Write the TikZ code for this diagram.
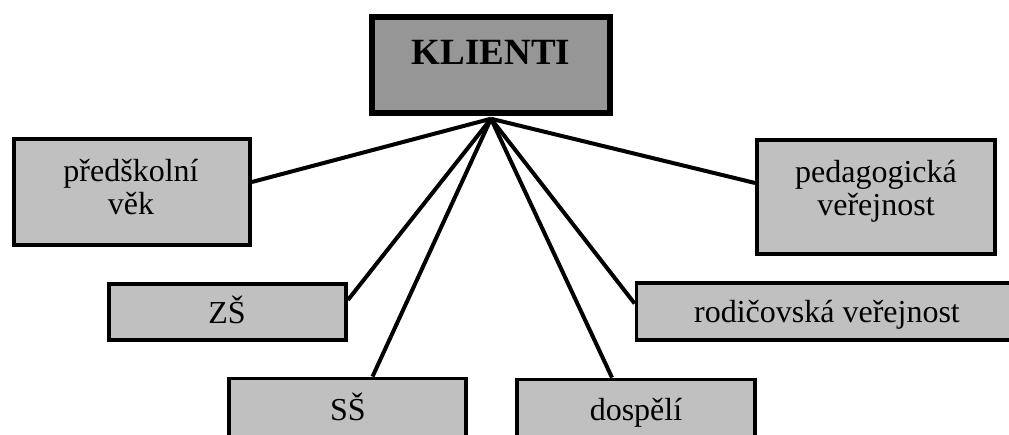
\documentclass[tikz,border=0pt]{standalone}
\usepackage{fontspec}
\setmainfont{Liberation Serif}
\definecolor{boxgray}{HTML}{C0C0C0}
\definecolor{headgray}{HTML}{969696}
\begin{document}
\begin{tikzpicture}[x=1pt,y=-1pt,
  box/.style={draw=black,line width=3.8pt,fill=boxgray,rectangle,inner sep=0pt},
  headbox/.style={draw=black,line width=5.5pt,fill=headgray,rectangle,inner sep=0pt},
  txt/.style={anchor=base,inner sep=0pt,font=\fontsize{32}{36}\selectfont},
  headtxt/.style={anchor=base,inner sep=0pt,font=\fontsize{37}{40}\selectfont\bfseries},
  link/.style={line width=4pt,black}]
\useasboundingbox (0,0) rectangle (1009,435);
\clip (0,0) rectangle (1009,435);

% boxes
\node[headbox,minimum width=238pt,minimum height=96pt] (kl) at (491,65) {};
\node[box,minimum width=236pt,minimum height=106pt] (pred) at (132,192) {};
\node[box,minimum width=238pt,minimum height=114pt] (ped) at (876,197) {};
\node[box,minimum width=237pt,minimum height=56pt] (zs) at (227.5,312) {};
\node[box,minimum width=381pt,minimum height=57pt] (rod) at (827,311.5) {};
\node[box,minimum width=237pt,minimum height=91pt] (ss) at (347.5,424) {};
\node[box,minimum width=238pt,minimum height=91pt] (dos) at (636,425) {};

% labels
\node[headtxt] (tkl) at (491,65) {KLIENTI};
\node[txt] (tpred1) at (131,182) {předškolní};
\node[txt] (tpred2) at (131,215) {věk};
\node[txt] (tped1) at (876,183) {pedagogická};
\node[txt] (tped2) at (876,216) {veřejnost};
\node[txt] (tzs) at (227,324) {ZŠ};
\node[txt] (trod) at (827,323) {rodičovská veřejnost};
\node[txt] (tss) at (348,420) {SŠ};
\node[txt] (tdos) at (636,420) {dospělí};

% connectors
\coordinate (hub) at ([yshift=-3pt]kl.south);
\draw[link] (hub) -- ([yshift=10pt]pred.east);
\draw[link] (hub) -- ([yshift=12pt]zs.east);
\draw[link] (hub) -- ([xshift=25pt]ss.north);
\draw[link] (hub) -- ([xshift=-24pt]dos.north);
\draw[link] (hub) -- ([yshift=8pt]rod.west);
\draw[link] (hub) -- ([yshift=14pt]ped.west);
\end{tikzpicture}
\end{document}
